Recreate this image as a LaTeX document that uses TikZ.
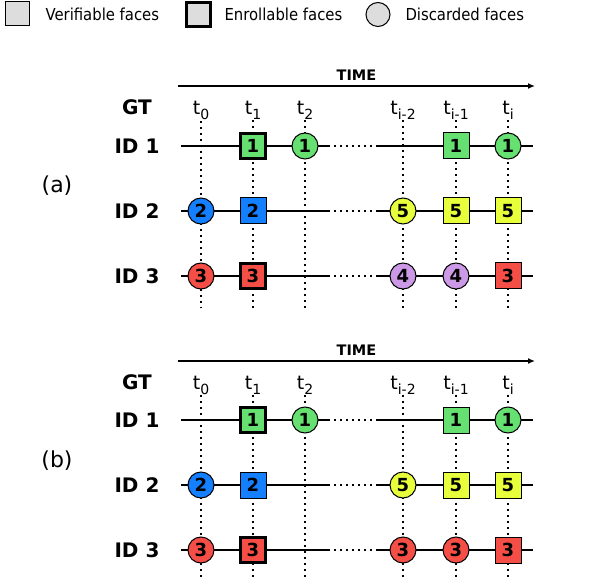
\documentclass[tikz,border=0pt]{standalone}
\usepackage{fontspec}
\setmainfont{DejaVu Sans}
\newfontfamily\legfont{DejaVu Sans}[FakeStretch=0.9]
\usetikzlibrary{arrows.meta}

\definecolor{facegray}{RGB}{221,221,221}
\definecolor{facegreen}{RGB}{102,224,112}
\definecolor{faceblue}{RGB}{20,128,255}
\definecolor{facered}{RGB}{245,78,70}
\definecolor{faceyellow}{RGB}{232,255,60}
\definecolor{facepurple}{RGB}{204,153,230}

\newcommand{\tlab}[1]{t\raisebox{-5pt}{\fontsize{14}{14}\selectfont #1}}

\begin{document}
\begin{tikzpicture}[x=1pt,y=-1pt,line width=1pt,
  face/.style={draw,line width=1pt,inner sep=0pt,minimum size=26pt,font=\fontsize{18}{18}\selectfont\bfseries},
  vface/.style={face,rectangle},
  eface/.style={face,rectangle,line width=3pt,minimum size=25pt},
  dface/.style={face,circle},
  rowline/.style={line width=2pt},
  rowdots/.style={line width=2pt,dash pattern=on 2pt off 4pt},
  tdots/.style={line width=2pt,dash pattern=on 2pt off 4pt},
  timearrow/.style={line width=1.3pt,-{Latex[length=7pt,width=6pt]}},
  idlab/.style={inner sep=0pt,font=\fontsize{20}{20}\selectfont\bfseries},
  tlabel/.style={anchor=base,inner sep=0pt,font=\fontsize{19}{19}\selectfont},
  legtext/.style={anchor=west,inner sep=0pt,font=\fontsize{16.5}{16.5}\legfont},
  panlab/.style={inner sep=0pt,font=\fontsize{22}{22}\selectfont}]
\useasboundingbox (0,0) rectangle (592,580);

% legend
\node[vface,fill=facegray,minimum size=24pt] (legv) at (17.5,14) {};
\node[legtext] (legvt) at (45,14.5) {Verifiable faces};
\node[eface,fill=facegray,minimum size=24pt] (lege) at (198.5,15) {};
\node[legtext] (leget) at (224,14.5) {Enrollable faces};
\node[dface,fill=facegray,minimum size=24pt] (legd) at (378,14.5) {};
\node[legtext] (legdt) at (405,14.5) {Discarded faces};

% ---------- panel (a) ----------
\node[panlab] (laba) at (57,186) {(a)};
\coordinate (tsa) at (178,86);
\coordinate (tea) at (535,86);
\draw[timearrow] (tsa) -- node[above=5pt,inner sep=0pt,font=\fontsize{14.5}{14.5}\selectfont\bfseries] (timea) {TIME} (tea);

\node[tlabel,font=\fontsize{20}{20}\selectfont\bfseries] (gta) at (137,115) {GT};
\node[tlabel] (t0a) at (201,115) {\tlab{0}};
\node[tlabel] (t1a) at (253,115) {\tlab{1}};
\node[tlabel] (t2a) at (305,115) {\tlab{2}};
\node[tlabel] (t3a) at (403,115) {\tlab{i-2}};
\node[tlabel] (t4a) at (456,115) {\tlab{i-1}};
\node[tlabel] (t5a) at (508,115) {\tlab{i}};

\coordinate (bota) at (0,308);
\draw[tdots] (t0a.south) -- (t0a.south |- bota);
\draw[tdots] (t1a.south) -- (t1a.south |- bota);
\draw[tdots] (t2a.south) -- (t2a.south |- bota);
\draw[tdots] (t3a.south) -- (t3a.south |- bota);
\draw[tdots] (t4a.south) -- (t4a.south |- bota);
\draw[tdots] (t5a.south) -- (t5a.south |- bota);

% rows
\node[idlab] (id1a) at (137,146) {ID 1};
\node[idlab] (id2a) at (137,211) {ID 2};
\node[idlab] (id3a) at (137,276) {ID 3};

\coordinate (r1sa) at (181,146); \coordinate (r1ba) at (328,146);
\coordinate (r1ra) at (377,146); \coordinate (r1ea) at (533,146);
\coordinate (r2sa) at (181,211); \coordinate (r2ba) at (328,211);
\coordinate (r2ra) at (377,211); \coordinate (r2ea) at (533,211);
\coordinate (r3sa) at (181,276); \coordinate (r3ba) at (328,276);
\coordinate (r3ra) at (377,276); \coordinate (r3ea) at (533,276);

\draw[rowline] (r1sa) -- (r1ba);
\draw[rowdots] (r1ba) -- (r1ra);
\draw[rowline] (r1ra) -- (r1ea);
\draw[rowline] (r2sa) -- (r2ba);
\draw[rowdots] (r2ba) -- (r2ra);
\draw[rowline] (r2ra) -- (r2ea);
\draw[rowline] (r3sa) -- (r3ba);
\draw[rowdots] (r3ba) -- (r3ra);
\draw[rowline] (r3ra) -- (r3ea);

% faces
\node[eface,fill=facegreen] (f11a) at (253,146) {1};
\node[dface,fill=facegreen] (f12a) at (305,146) {1};
\node[vface,fill=facegreen] (f14a) at (456,146) {1};
\node[dface,fill=facegreen] (f15a) at (508,146) {1};

\node[dface,fill=faceblue] (f20a) at (201,211) {2};
\node[vface,fill=faceblue] (f21a) at (253,211) {2};
\node[dface,fill=faceyellow] (f23a) at (403,211) {5};
\node[vface,fill=faceyellow] (f24a) at (456,211) {5};
\node[vface,fill=faceyellow] (f25a) at (508,211) {5};

\node[dface,fill=facered] (f30a) at (201,276) {3};
\node[eface,fill=facered] (f31a) at (253,276) {3};
\node[dface,fill=facepurple] (f33a) at (403,276) {4};
\node[dface,fill=facepurple] (f34a) at (456,276) {4};
\node[vface,fill=facered] (f35a) at (508,276) {3};

% ---------- panel (b) ----------
\node[panlab] (labb) at (57,461) {(b)};
\coordinate (tsb) at (178,361);
\coordinate (teb) at (535,361);
\draw[timearrow] (tsb) -- node[above=5pt,inner sep=0pt,font=\fontsize{14.5}{14.5}\selectfont\bfseries] (timeb) {TIME} (teb);

\node[tlabel,font=\fontsize{20}{20}\selectfont\bfseries] (gtb) at (137,389) {GT};
\node[tlabel] (t0b) at (201,389) {\tlab{0}};
\node[tlabel] (t1b) at (253,389) {\tlab{1}};
\node[tlabel] (t2b) at (305,389) {\tlab{2}};
\node[tlabel] (t3b) at (403,389) {\tlab{i-2}};
\node[tlabel] (t4b) at (456,389) {\tlab{i-1}};
\node[tlabel] (t5b) at (508,389) {\tlab{i}};

\coordinate (botb) at (0,580);
\draw[tdots] (t0b.south) -- (t0b.south |- botb);
\draw[tdots] (t1b.south) -- (t1b.south |- botb);
\draw[tdots] (t2b.south) -- (t2b.south |- botb);
\draw[tdots] (t3b.south) -- (t3b.south |- botb);
\draw[tdots] (t4b.south) -- (t4b.south |- botb);
\draw[tdots] (t5b.south) -- (t5b.south |- botb);

% rows
\node[idlab] (id1b) at (137,420) {ID 1};
\node[idlab] (id2b) at (137,485) {ID 2};
\node[idlab] (id3b) at (137,550) {ID 3};

\coordinate (r1sb) at (181,420); \coordinate (r1bb) at (328,420);
\coordinate (r1rb) at (377,420); \coordinate (r1eb) at (533,420);
\coordinate (r2sb) at (181,485); \coordinate (r2bb) at (328,485);
\coordinate (r2rb) at (377,485); \coordinate (r2eb) at (533,485);
\coordinate (r3sb) at (181,550); \coordinate (r3bb) at (328,550);
\coordinate (r3rb) at (377,550); \coordinate (r3eb) at (533,550);

\draw[rowline] (r1sb) -- (r1bb);
\draw[rowdots] (r1bb) -- (r1rb);
\draw[rowline] (r1rb) -- (r1eb);
\draw[rowline] (r2sb) -- (r2bb);
\draw[rowdots] (r2bb) -- (r2rb);
\draw[rowline] (r2rb) -- (r2eb);
\draw[rowline] (r3sb) -- (r3bb);
\draw[rowdots] (r3bb) -- (r3rb);
\draw[rowline] (r3rb) -- (r3eb);

% faces
\node[eface,fill=facegreen] (f11b) at (253,420) {1};
\node[dface,fill=facegreen] (f12b) at (305,420) {1};
\node[vface,fill=facegreen] (f14b) at (456,420) {1};
\node[dface,fill=facegreen] (f15b) at (508,420) {1};

\node[dface,fill=faceblue] (f20b) at (201,485) {2};
\node[vface,fill=faceblue] (f21b) at (253,485) {2};
\node[dface,fill=faceyellow] (f23b) at (403,485) {5};
\node[vface,fill=faceyellow] (f24b) at (456,485) {5};
\node[vface,fill=faceyellow] (f25b) at (508,485) {5};

\node[dface,fill=facered] (f30b) at (201,550) {3};
\node[eface,fill=facered] (f31b) at (253,550) {3};
\node[dface,fill=facered] (f33b) at (403,550) {3};
\node[dface,fill=facered] (f34b) at (456,550) {3};
\node[vface,fill=facered] (f35b) at (508,550) {3};

\end{tikzpicture}
\end{document}
